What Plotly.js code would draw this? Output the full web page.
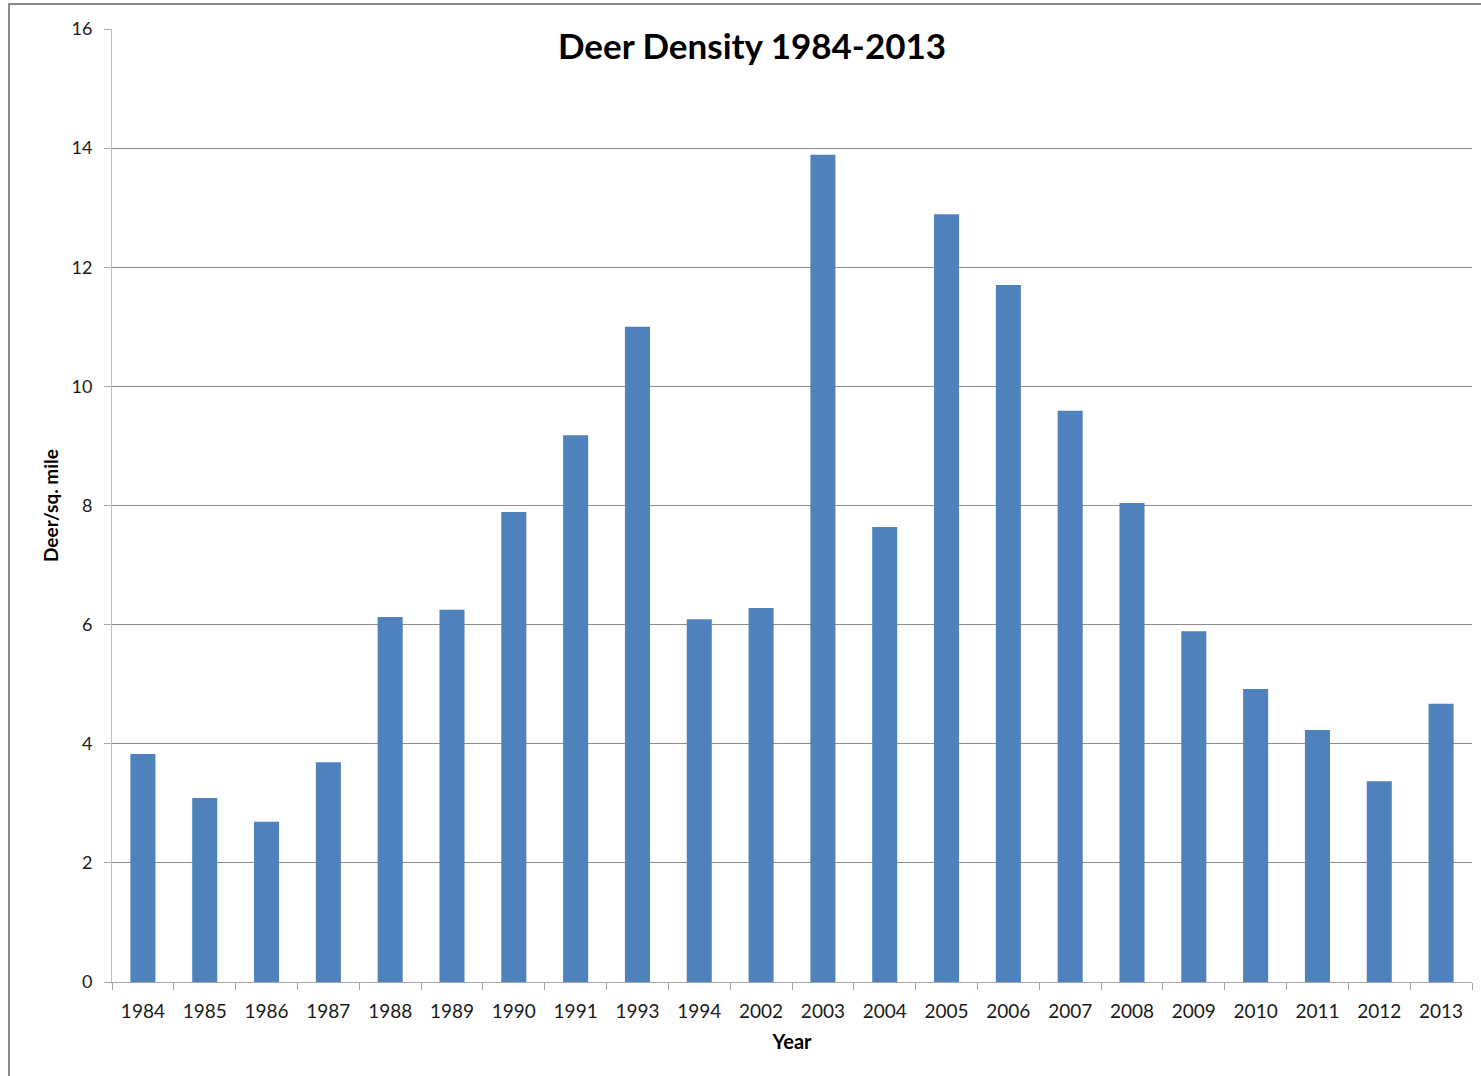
<!DOCTYPE html>
<html>
<head>
<meta charset="utf-8">
<script src="https://cdn.plot.ly/plotly-3.0.1.min.js"></script>
<style>
  html, body { margin: 0; padding: 0; background: #fff; }
  #wrap { position: relative; width: 1481px; height: 1076px; overflow: hidden; }
  #frame { position: absolute; left: 8px; top: 3px; width: 1600px; height: 1200px; border: 2px solid #8a8a8a; pointer-events: none; z-index: 5; }
  #chart { position: absolute; left: 0; top: 0; width: 1481px; height: 1076px; }
</style>
</head>
<body>
<div id="wrap">
  <div id="chart"></div>
  <div id="frame"></div>
</div>
<script>
const years = ["1984","1985","1986","1987","1988","1989","1990","1991","1993","1994","2002","2003","2004","2005","2006","2007","2008","2009","2010","2011","2012","2013"];
const density = [3.83, 3.09, 2.69, 3.69, 6.13, 6.25, 7.89, 9.18, 11.0, 6.09, 6.28, 13.89, 7.64, 12.89, 11.70, 9.59, 8.04, 5.89, 4.92, 4.23, 3.37, 4.67];
const yTicks = [0, 2, 4, 6, 8, 10, 12, 14, 16];

const font = "Lato, 'Open Sans', sans-serif";

Plotly.newPlot("chart", [{
  type: "bar",
  x: years,
  y: density,
  marker: { color: "#4f81bd" },
  hoverinfo: "x+y"
}], {
  width: 1481,
  height: 1076,
  margin: { l: 112, r: 9, t: 29, b: 94 },
  paper_bgcolor: "#fff",
  plot_bgcolor: "#fff",
  bargap: 0.595,
  showlegend: false,
  font: { family: font, color: "#000" },
  title: {
    text: "<b>Deer Density 1984-2013</b>",
    font: { family: font, size: 35, color: "#000" },
    xref: "paper", x: 0.4706, xanchor: "center",
    yref: "container", y: 0.9563, yanchor: "middle"
  },
  xaxis: {
    type: "category",
    tickson: "boundaries",
    ticks: "outside", ticklen: 7, tickcolor: "#a6a6a6",
    showline: true, linecolor: "#a6a6a6", linewidth: 1,
    showgrid: false,
    tickfont: { family: font, size: 19, color: "#1a1a1a" },
    ticklabelstandoff: 12,
    title: { text: "<b>Year</b>", font: { family: font, size: 20, color: "#000" }, standoff: 14 }
  },
  yaxis: {
    range: [0, 16],
    tickvals: yTicks,
    ticktext: yTicks.map(String),
    ticks: "outside", ticklen: 7, tickcolor: "#a6a6a6",
    showline: true, linecolor: "#bdbdbd", linewidth: 1,
    showgrid: true, gridcolor: "#8c8c8c", gridwidth: 1,
    zeroline: false,
    tickfont: { family: font, size: 18, color: "#1a1a1a" },
    ticklabelstandoff: 8,
    title: { text: "<b>Deer/sq. mile</b>", font: { family: font, size: 19, color: "#000" }, standoff: 7 }
  }
}, { displayModeBar: false, staticPlot: true });
</script>
</body>
</html>
